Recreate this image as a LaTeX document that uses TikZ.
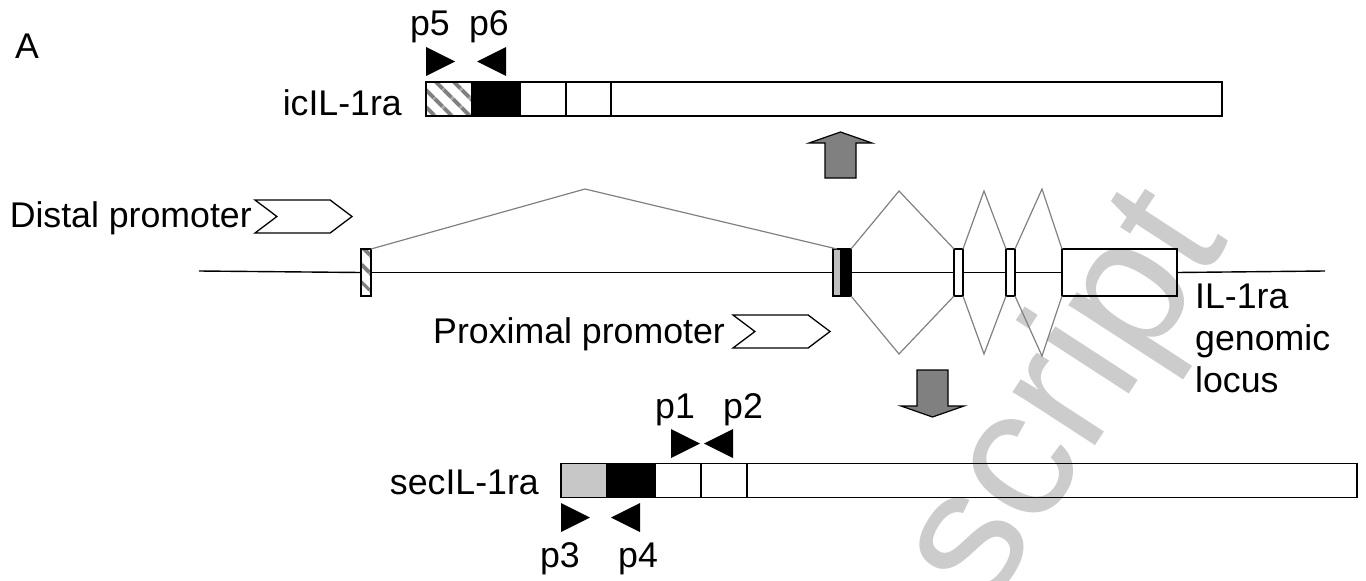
\documentclass[tikz,border=0pt]{standalone}
\usepackage{fontspec}
\setmainfont{Liberation Sans}
\usetikzlibrary{positioning, shapes.symbols, patterns.meta}
\tikzset{
    seg/.style={draw, line width=1.6pt, inner sep=0, outer sep=0, minimum height=34pt},
    exon/.style={draw, line width=1.6pt, inner sep=0, outer sep=0, minimum height=47pt},
    hatch/.style={pattern={Lines[angle=-45, distance=13pt, line width=4.5pt]}, pattern color=gray},
    dna/.style={draw=black, line width=1.4pt},
    splice/.style={draw=gray, line width=1.2pt},
    promoter/.style={signal, draw, line width=1.3pt, signal from=west, signal to=east,
        signal pointer angle=74, minimum width=97pt, minimum height=33pt, inner sep=0},
    primer/.style={fill=black},
    lbl/.style={inner sep=0},
    bigarrow/.style={draw, fill=gray, line width=1.2pt},
}
\newcommand{\fwdprimer}[1]{\fill[primer] #1 -- ++(29,14.5) -- ++(-29,14.5) -- cycle;}
\newcommand{\revprimer}[1]{\fill[primer] #1 -- ++(-29,14.5) -- ++(29,14.5) -- cycle;}

\begin{document}
\begin{tikzpicture}[x=1pt, y=-1pt, font=\fontsize{35.7}{42}\selectfont]
    \useasboundingbox (0,0) rectangle (1366,581);
    % watermark
    \node[text=black!20, rotate=57, font=\fontsize{186}{186}\selectfont] (mark) at (1068,400) {script};

    \node[lbl, anchor=base west] (panel) at (15,58) {A};

    % icIL-1ra transcript
    \node[lbl, anchor=base east] (icname) at (402,115) {icIL-1ra};
    \node[seg, hatch, minimum width=46pt] (ic1) at (449,99) {};
    \node[seg, fill=black, minimum width=48pt, right=0pt of ic1] (ic2) {};
    \node[seg, minimum width=46pt, right=0pt of ic2] (ic3) {};
    \node[seg, minimum width=45pt, right=0pt of ic3] (ic4) {};
    \node[seg, minimum width=611pt, right=0pt of ic4] (ic5) {};
    \fwdprimer{(426,47)}
    \revprimer{(506,47)}
    \node[lbl, anchor=base] (p5) at (430,35) {p5};
    \node[lbl, anchor=base] (p6) at (489,35) {p6};

    % genomic locus
    \coordinate (g0) at (199,271);
    \coordinate (g1) at (1325,271);
    \node[exon, hatch, minimum width=10pt] (ex1) at (366,272.5) {};
    \node[exon, fill=black!25, minimum width=8pt] (ex2a) at (837,272.5) {};
    \node[exon, fill=black, minimum width=10pt, right=0pt of ex2a] (ex2b) {};
    \node[exon, minimum width=9pt] (ex3) at (958.5,272.5) {};
    \node[exon, minimum width=9pt] (ex4) at (1010.5,272.5) {};
    \node[exon, minimum width=115pt] (ex5) at (1119.5,272.5) {};
    \draw[dna] (g0) -- (ex1.west);
    \draw[dna] (ex1.east) -- (ex2a.west);
    \draw[dna] (ex2b.east) -- (ex3.west);
    \draw[dna] (ex3.east) -- (ex4.west);
    \draw[dna] (ex4.east) -- (ex5.west);
    \draw[dna] (ex5.east) -- (g1);

    % splicing
    \coordinate (s1) at (585,189);
    \coordinate (s2t) at (899,191);
    \coordinate (s2b) at (899,354);
    \coordinate (s3t) at (984,191);
    \coordinate (s3b) at (984,354);
    \coordinate (s4t) at (1042,189);
    \coordinate (s4b) at (1042,356);
    \draw[splice] (ex1.north east) -- (s1) -- (ex2a.north);
    \draw[splice] (ex2b.north east) -- (s2t) -- (ex3.north west);
    \draw[splice] (ex2b.south east) -- (s2b) -- (ex3.south west);
    \draw[splice] (ex3.north east) -- (s3t) -- (ex4.north west);
    \draw[splice] (ex3.south east) -- (s3b) -- (ex4.south west);
    \draw[splice] (ex4.north east) -- (s4t) -- (ex5.north west);
    \draw[splice] (ex4.south east) -- (s4b) -- (ex5.south west);

    % promoters
    \node[promoter] (distal) at (303.5,216.5) {};
    \node[lbl, anchor=base east] (distaltext) at (252,227) {Distal promoter};
    \node[promoter] (proximal) at (781.5,331.5) {};
    \node[lbl, anchor=base west] (proximaltext) at (433,343) {Proximal promoter};
    \node[lbl, align=left, anchor=north west] (locus) at (1195,284) {IL-1ra\\genomic\\locus};

    % up / down arrows
    \draw[bigarrow] (825,178) -- (825,143) -- (809,143) -- (840.5,132) -- (872,143) -- (856,143) -- (856,178) -- cycle;
    \draw[bigarrow] (917,370) -- (948,370) -- (948,406) -- (964,406) -- (932.5,417) -- (901,406) -- (917,406) -- cycle;

    % secIL-1ra transcript
    \node[lbl, anchor=base east] (secname) at (539,494) {secIL-1ra};
    \node[seg, fill=black!22, minimum width=46pt] (sec1) at (584,480.5) {};
    \node[seg, fill=black, minimum width=48pt, right=0pt of sec1] (sec2) {};
    \node[seg, minimum width=46pt, right=0pt of sec2] (sec3) {};
    \node[seg, minimum width=46pt, right=0pt of sec3] (sec4) {};
    \node[seg, minimum width=610pt, right=0pt of sec4] (sec5) {};
    \fwdprimer{(671,429)}
    \revprimer{(733,429)}
    \fwdprimer{(561,503)}
    \revprimer{(640,503)}
    \node[lbl, anchor=base] (p1) at (675,418) {p1};
    \node[lbl, anchor=base] (p2) at (743,418) {p2};
    \node[lbl, anchor=base] (p3) at (560,567) {p3};
    \node[lbl, anchor=base] (p4) at (638,567) {p4};
\end{tikzpicture}
\end{document}
